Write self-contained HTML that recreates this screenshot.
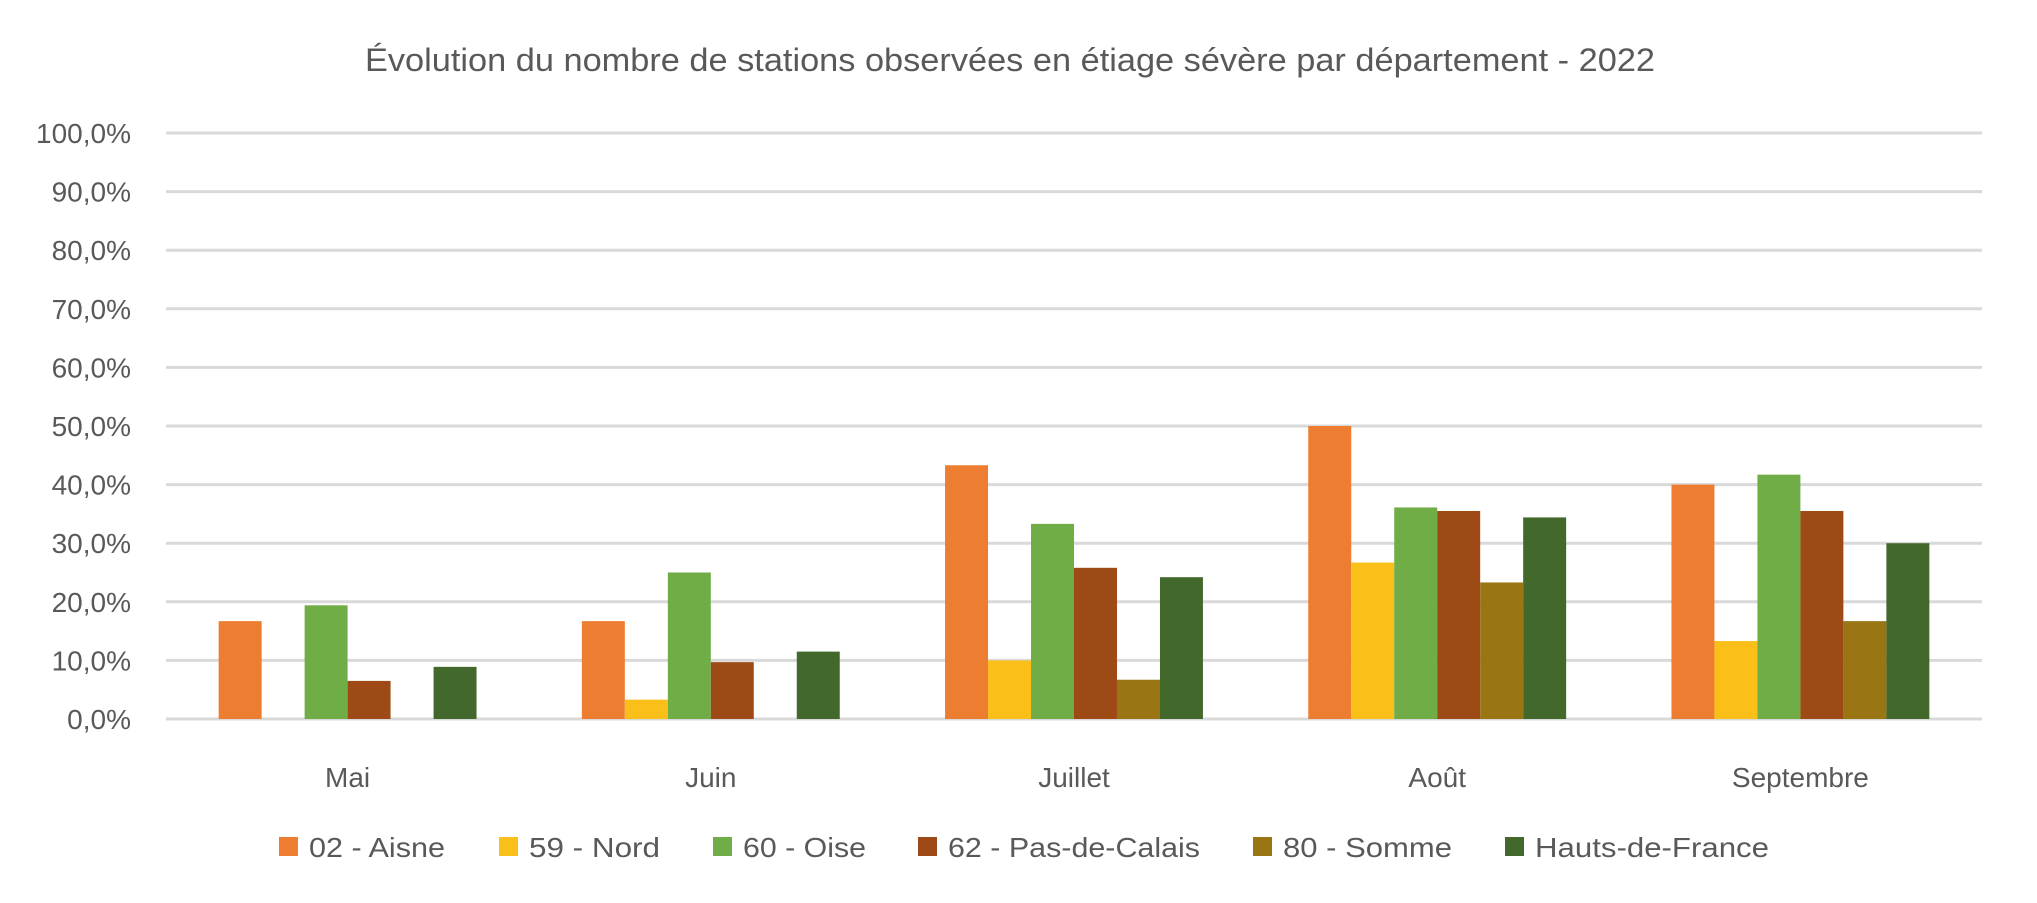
<!DOCTYPE html>
<html><head><meta charset="utf-8"><style>
html,body{margin:0;padding:0;background:#fff;}
svg{display:block;font-family:"Liberation Sans",sans-serif;}
</style></head><body>
<svg id="chart" width="2037" height="903" viewBox="0 0 2037 903">
<rect width="2037" height="903" fill="#fff"/>
<text x="1010" y="71" text-anchor="middle" font-size="32" fill="#595959" textLength="1290" lengthAdjust="spacingAndGlyphs">Évolution du nombre de stations observées en étiage sévère par département - 2022</text>
<g id="grid"></g><g id="bars"></g><g id="labels"></g><g id="legend"></g>
</svg>
<script>
const categories = ["Mai","Juin","Juillet","Août","Septembre"];
const seriesNames = ["02 - Aisne","59 - Nord","60 - Oise","62 - Pas-de-Calais","80 - Somme","Hauts-de-France"];
const aisne = [16.7,16.7,43.3,50.0,40.0];
const nord = [0,3.3,10.0,26.7,13.3];
const oise = [19.4,25.0,33.3,36.1,41.7];
const pasDeCalais = [6.5,9.7,25.8,35.5,35.5];
const somme = [0,0,6.7,23.3,16.7];
const hdf = [8.9,11.5,24.2,34.4,30.0];
const tickValues = [0,10,20,30,40,50,60,70,80,90,100];
const tickLabels = ["0,0%","10,0%","20,0%","30,0%","40,0%","50,0%","60,0%","70,0%","80,0%","90,0%","100,0%"];

const colors = ["#ED7D31","#FBBF1A","#70AD47","#9E4A17","#997514","#43682B"];
const series = [aisne,nord,oise,pasDeCalais,somme,hdf];
const NS = "http://www.w3.org/2000/svg";
const X0 = 166, X1 = 1982, Y0 = 719, Y100 = 133;
const catW = (X1 - X0) / categories.length;
const barW = catW / (6 + 2.45);
const gapHalf = (catW - 6 * barW) / 2;
function y(v){ return Y0 - (v/100)*(Y0-Y100); }
function xBar(ci, si){ return X0 + ci*catW + gapHalf + si*barW; }
function mk(tag, attrs, parent){ const e=document.createElementNS(NS,tag); for(const k in attrs) e.setAttribute(k,attrs[k]); parent.appendChild(e); return e; }

const grid = document.getElementById('grid');
tickValues.forEach((v,i)=>{
  const l = mk('line',{x1:X0,x2:X1,y1:y(v),y2:y(v),stroke:'#d9d9d9','stroke-width':3},grid);
  
  
  const t = mk('text',{x:131,y:y(v)+10,'text-anchor':'end','font-size':28,fill:'#595959'},grid);
  t.textContent = tickLabels[i];
  
  
});

const bars = document.getElementById('bars');
series.forEach((s,si)=>{
  s.forEach((v,ci)=>{
    if(v<=0) return;
    const r = mk('rect',{x:xBar(ci,si),y:y(v),width:barW,height:Y0-y(v),fill:colors[si]},bars);
    
    
  });
});

const labels = document.getElementById('labels');
categories.forEach((c,ci)=>{
  const t = mk('text',{x:X0+(ci+0.5)*catW,y:787,'text-anchor':'middle','font-size':28,fill:'#595959'},labels);
  t.textContent = c;
  
  
});

const legend = document.getElementById('legend');
const legX = [279,499,713,918,1253,1505];
const legW = [136,131,123,252,169,234];
seriesNames.forEach((n,i)=>{
  const g = mk('g',{},legend);
  
  
  mk('rect',{x:legX[i],y:837,width:19,height:19,fill:colors[i]},g);
  const t = mk('text',{x:legX[i]+30,y:857,'font-size':28,fill:'#595959',textLength:legW[i],lengthAdjust:'spacingAndGlyphs'},g);
  t.textContent = n;
});
</script>
</body></html>
